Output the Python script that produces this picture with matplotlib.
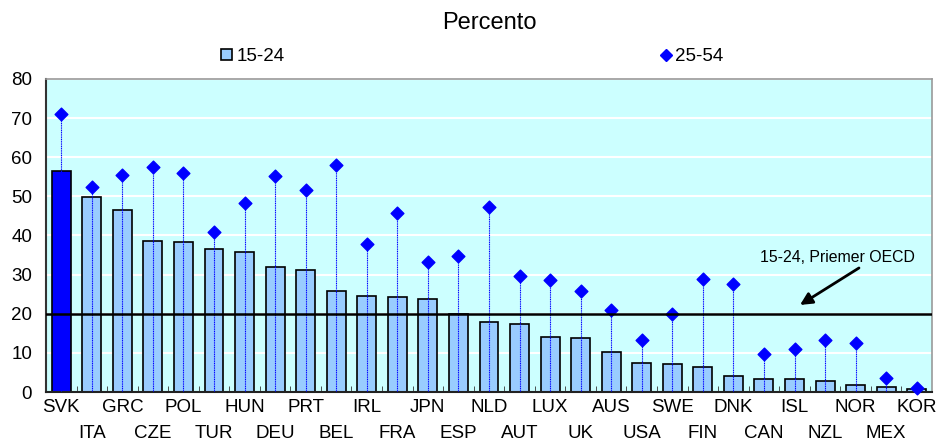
import matplotlib
matplotlib.use("Agg")
import matplotlib.pyplot as plt
from matplotlib.lines import Line2D
from matplotlib.patches import Patch
import numpy as np

plt.rcParams['font.family'] = ['Liberation Sans', 'DejaVu Sans']

countries = ["SVK", "ITA", "GRC", "CZE", "POL", "TUR", "HUN", "DEU", "PRT", "BEL",
             "IRL", "FRA", "JPN", "ESP", "NLD", "AUT", "LUX", "UK", "AUS", "USA",
             "SWE", "FIN", "DNK", "CAN", "ISL", "NZL", "NOR", "MEX", "KOR"]
youth_15_24 = [56.6, 49.9, 46.5, 38.5, 38.4, 36.6, 35.8, 32.0, 31.3, 25.9,
               24.6, 24.2, 23.7, 19.9, 17.8, 17.4, 14.1, 13.7, 10.1, 7.3,
               7.1, 6.3, 4.2, 3.4, 3.2, 2.7, 1.8, 1.4, 0.7]
adult_25_54 = [71.1, 52.3, 55.4, 57.6, 55.9, 40.9, 48.4, 55.2, 51.7, 58.1,
               37.9, 45.8, 33.2, 34.7, 47.3, 29.7, 28.7, 25.7, 21.0, 13.3,
               19.9, 29.0, 27.6, 9.7, 11.1, 13.3, 12.5, 3.5, 1.0]
oecd_avg_15_24 = 20
highlight = "SVK"

FS = 13.5

fig = plt.figure(figsize=(9.38, 4.41), dpi=100)
ax = fig.add_axes([0.049, 0.1111, 0.9446, 0.7098])
ax.set_facecolor("#CCFFFF")

x = np.arange(len(countries))
colors = ["#0000FF" if c == highlight else "#99CCFF" for c in countries]

ax.set_axisbelow(True)
ax.yaxis.grid(True, color="white", linewidth=1.5)

ax.bar(x, youth_15_24, width=0.62, color=colors, edgecolor="black", linewidth=1.2, zorder=2)
ax.vlines(x, 0, adult_25_54, colors="#0000FF", linestyles=(0, (1, 0.6)), linewidth=0.8, zorder=3)
ax.scatter(x, adult_25_54, marker="D", s=42, color="#0000FF", zorder=4, clip_on=False)

ax.axhline(oecd_avg_15_24, color="black", linewidth=1.8, zorder=5)
ax.text(25.41, 34.5, "15-24, Priemer OECD", ha="center", va="center", fontsize=11.4)
ax.annotate("", xy=(24.18, 22.25), xytext=(26.11, 31.7),
            arrowprops=dict(arrowstyle="-|>", color="black", lw=2.0, mutation_scale=18,
                            shrinkA=0, shrinkB=0))

ax.set_xlim(-0.5, len(countries) - 0.5)
ax.set_ylim(0, 80)
ax.set_yticks(range(0, 81, 10))
ax.tick_params(axis="y", length=0, labelsize=FS, pad=10)

# country labels in two staggered rows
ax.set_xticks(x[::2], countries[::2], fontsize=FS)
ax.tick_params(axis="x", which="major", length=0, pad=5)
lower = ax.secondary_xaxis("bottom")
lower.set_xticks(x[1::2], countries[1::2], fontsize=FS)
lower.tick_params(axis="x", length=0, pad=24)
lower.spines["bottom"].set_visible(False)

ax.set_xticks(np.arange(0.5, len(countries) - 0.5, 1), minor=True)
ax.tick_params(axis="x", which="minor", direction="in", length=4, color="#333333")

for side in ["top", "right"]:
    ax.spines[side].set_color("#999999")
    ax.spines[side].set_linewidth(1.2)
ax.spines["left"].set_color("#333333")
ax.spines["left"].set_linewidth(1.5)
ax.spines["bottom"].set_color("#222222")
ax.spines["bottom"].set_linewidth(1.5)

fig.text(0.522, 0.948, "Percento", ha="center", va="center", fontsize=17)

h1 = Patch(facecolor="#99CCFF", edgecolor="black", linewidth=1.2)
h2 = Line2D([], [], marker="D", color="#0000FF", linestyle="none", markersize=6)
common = dict(loc="center left", frameon=False, fontsize=FS, borderpad=0, borderaxespad=0,
              handlelength=0.59, handleheight=0.59, handletextpad=0.22)
fig.legend([h1], ["15-24"], bbox_to_anchor=(0.2356, 0.8714), **common)
fig.legend([h2], ["25-54"], bbox_to_anchor=(0.7036, 0.8714), **common)

fig.savefig("out.png", dpi=100)
